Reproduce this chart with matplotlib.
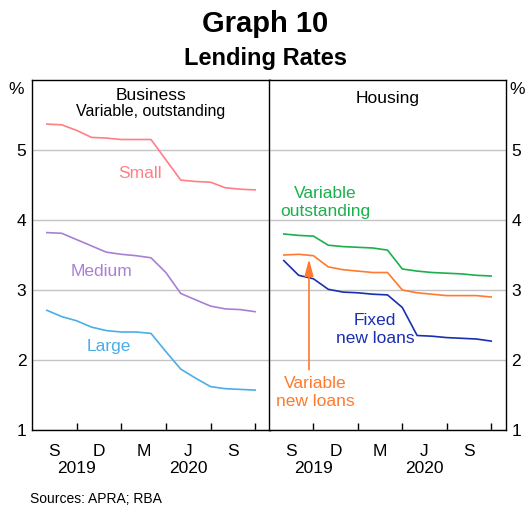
import numpy as np
import matplotlib.pyplot as plt

plt.rcParams['font.family'] = ['Liberation Sans', 'DejaVu Sans']

# months since 1 Jul 2019; monthly observations at month end (Jul 2019 - Sep 2020)
months = np.arange(1, 16)

small = [5.37, 5.36, 5.28, 5.18, 5.17, 5.15, 5.15, 5.15, 4.86, 4.57, 4.55, 4.54, 4.46, 4.44, 4.43]
medium = [3.82, 3.81, 3.72, 3.63, 3.54, 3.51, 3.49, 3.46, 3.25, 2.95, 2.86, 2.77, 2.73, 2.72, 2.69]
large = [2.71, 2.62, 2.56, 2.47, 2.42, 2.40, 2.40, 2.38, 2.12, 1.87, 1.74, 1.62, 1.59, 1.58, 1.57]

var_outstanding = [3.80, 3.78, 3.77, 3.64, 3.62, 3.61, 3.60, 3.57, 3.30, 3.27, 3.25, 3.24, 3.23, 3.21, 3.20]
var_new = [3.50, 3.51, 3.49, 3.33, 3.29, 3.27, 3.25, 3.25, 3.00, 2.96, 2.94, 2.92, 2.92, 2.92, 2.90]
fixed_new = [3.42, 3.21, 3.16, 3.01, 2.97, 2.96, 2.94, 2.93, 2.75, 2.35, 2.34, 2.32, 2.31, 2.30, 2.27]

quarter_labels = ["S", "D", "M", "J", "S"]
year_labels = ["2019", "2020"]

C_SMALL = "#ff7e86"
C_MED = "#a97fd4"
C_LARGE = "#4aaee8"
C_GREEN = "#1ab04c"
C_ORANGE = "#ff7a2e"
C_BLUE = "#1a2fb0"

W, H = 526, 508
fig = plt.figure(figsize=(W / 100, H / 100), dpi=100)
ax1 = fig.add_axes([32 / W, 78 / H, 238 / W, 350 / H])
ax2 = fig.add_axes([269 / W, 78 / H, 237 / W, 350 / H])

for ax in (ax1, ax2):
    ax.set_xlim(0, 16)
    ax.set_ylim(1, 6)
    ax.set_yticks([1, 2, 3, 4, 5])
    ax.grid(axis="y", color="#c4c4c4", lw=1)
    ax.set_axisbelow(True)
    ax.set_xticks([3, 6, 9, 12, 15])
    ax.set_xticklabels([])
    ax.set_xticks([1.5, 4.5, 7.5, 10.5, 13.5], minor=True)
    ax.set_xticklabels(quarter_labels, minor=True)
    ax.tick_params(axis="x", which="major", direction="in", length=5, width=1, color="black")
    ax.tick_params(axis="x", which="minor", length=0, pad=10, labelsize=12.5)
    ax.tick_params(axis="y", length=0, pad=4, labelsize=12.5)
    for s in ax.spines.values():
        s.set_color("black")
        s.set_linewidth(1)
    for yr, xpos in zip(year_labels, [3, 10.5]):
        ax.text(xpos, -0.111, yr, transform=ax.get_xaxis_transform(),
                ha="center", va="center", fontsize=12.5)

ax2.yaxis.tick_right()

# Business panel
ax1.plot(months, small, color=C_SMALL, lw=1.2)
ax1.plot(months, medium, color=C_MED, lw=1.2)
ax1.plot(months, large, color=C_LARGE, lw=1.2)
ax1.text(0.5, 0.957, "Business", transform=ax1.transAxes, ha="center", va="center", fontsize=12.5)
ax1.text(0.5, 0.909, "Variable, outstanding", transform=ax1.transAxes, ha="center", va="center", fontsize=11.5)
ax1.text(7.26, 4.67, "Small", color=C_SMALL, ha="center", va="center", fontsize=12.5)
ax1.text(4.64, 3.27, "Medium", color=C_MED, ha="center", va="center", fontsize=12.5)
ax1.text(5.18, 2.19, "Large", color=C_LARGE, ha="center", va="center", fontsize=12.5)

# Housing panel
ax2.plot(months, var_outstanding, color=C_GREEN, lw=1.2)
ax2.plot(months, var_new, color=C_ORANGE, lw=1.2)
ax2.plot(months, fixed_new, color=C_BLUE, lw=1.2)
ax2.text(0.502, 0.946, "Housing", transform=ax2.transAxes, ha="center", va="center", fontsize=12.5)
ax2.text(3.78, 4.25, "Variable\noutstanding", color=C_GREEN, ha="center", va="center",
         fontsize=12.5, linespacing=1.25)
ax2.text(7.16, 2.43, "Fixed\nnew loans", color=C_BLUE, ha="center", va="center",
         fontsize=12.5, linespacing=1.25)
ax2.text(3.1, 1.54, "Variable\nnew loans", color=C_ORANGE, ha="center", va="center",
         fontsize=12.5, linespacing=1.25)
ax2.annotate("", xy=(2.7, 3.44), xytext=(2.7, 1.86),
             arrowprops=dict(arrowstyle="-|>,head_length=1.0,head_width=0.27", color=C_ORANGE,
                             lw=1.2, mutation_scale=10, shrinkA=0, shrinkB=0))

fig.text(16 / W, 1 - 89 / H, "%", ha="center", va="center", fontsize=12.5)
fig.text(517 / W, 1 - 89 / H, "%", ha="center", va="center", fontsize=12.5)
fig.text(265 / W, 1 - 24 / H, "Graph 10", ha="center", va="center", fontsize=21, fontweight="bold")
fig.text(265 / W, 1 - 58 / H, "Lending Rates", ha="center", va="center", fontsize=17, fontweight="bold")
fig.text(30 / W, 1 - 499 / H, "Sources: APRA; RBA", ha="left", va="center", fontsize=10)

fig.savefig("out.png", dpi=100)
